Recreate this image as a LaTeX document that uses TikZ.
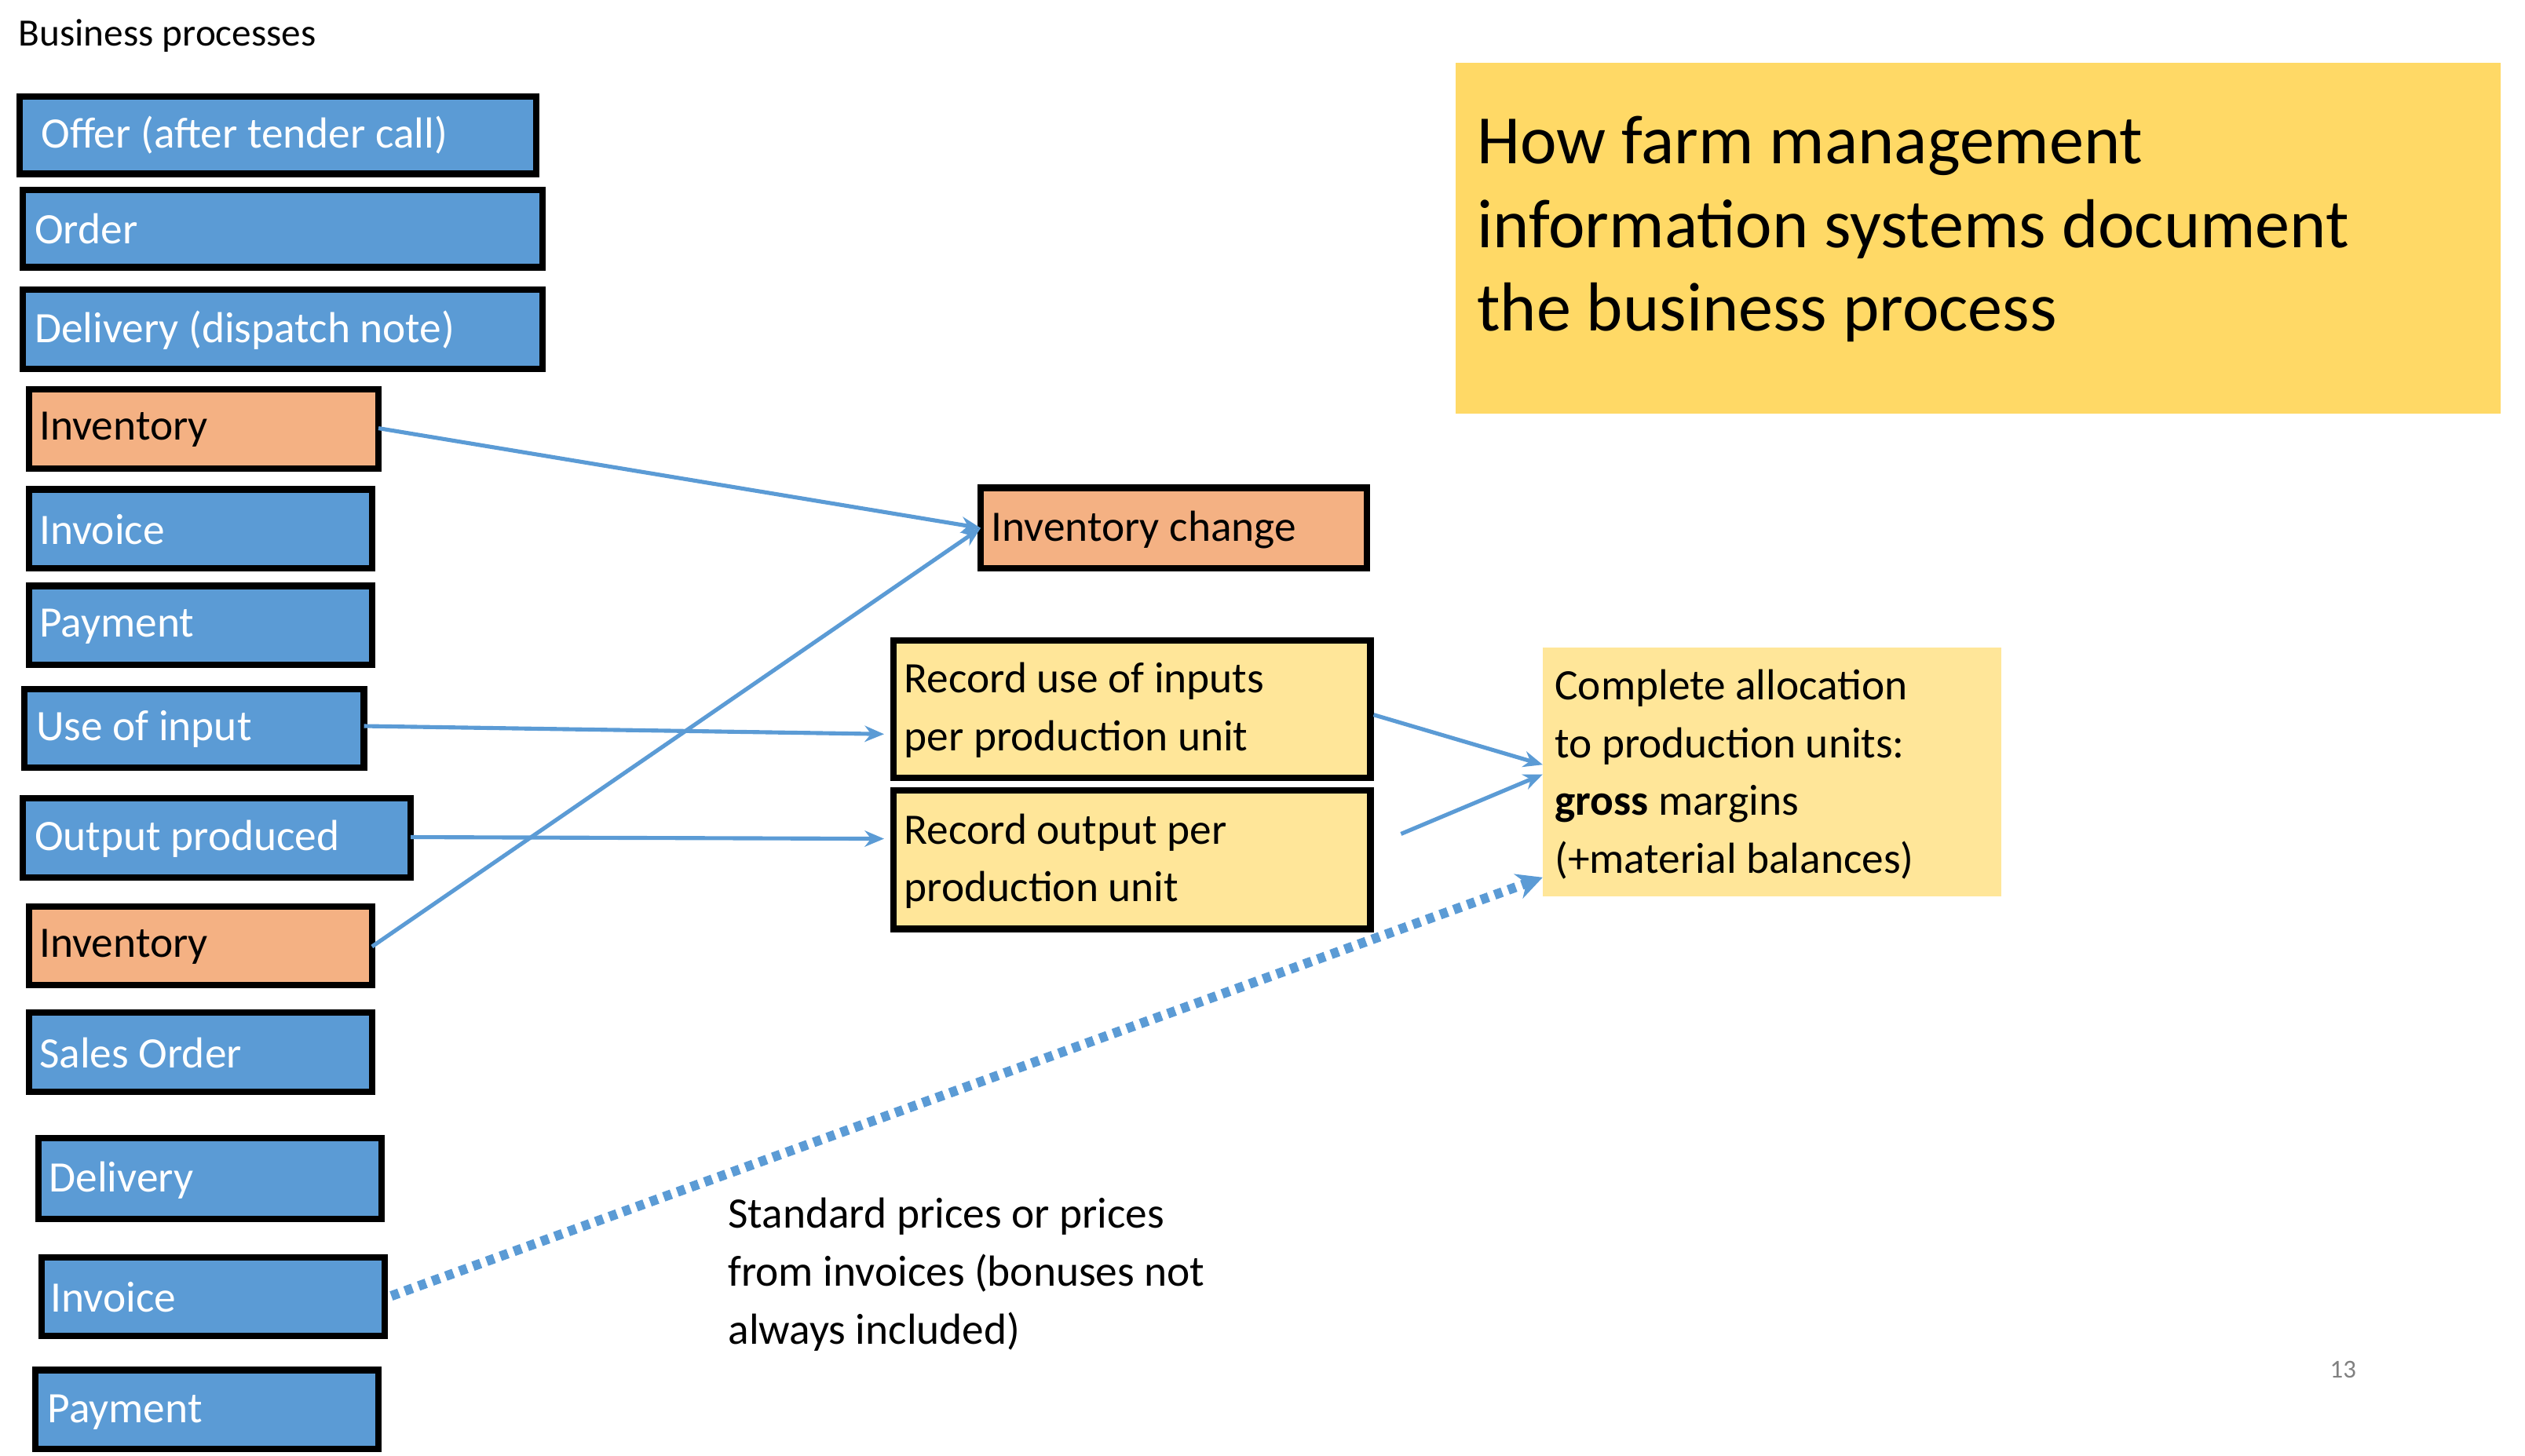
\documentclass[tikz,border=0pt]{standalone}
\usepackage{fontspec}
\setmainfont{Carlito}
\usetikzlibrary{arrows.meta}
\definecolor{bp}{HTML}{5B9BD5}
\definecolor{og}{HTML}{F4B183}
\definecolor{ly}{HTML}{FFE699}
\definecolor{ty}{HTML}{FFD966}
\begin{document}
\begin{tikzpicture}[x=1pt,y=-1pt,
 bx/.style={draw=black,line width=4pt},
 lb/.style={anchor=west,font=\fontsize{27}{32}\selectfont},
 ar/.style={draw=bp,line width=2.5pt,-{Stealth[length=12pt,width=10pt]}}]
\useasboundingbox (0,0) rectangle (1568,904);
\begin{scope}
\clip (0,0) rectangle (1568,904);
\newcommand\bbox[7]{\draw[bx,fill=#6] (#1,#2) rectangle (#3,#4); \node[lb,text=#7] (#5) at (#1+10,{(#2+#4)/2}) {};}
\draw[bx,fill=bp] (12,60) rectangle (333,108); \node[lb,white] (n1) at (22,84) {Offer (after tender call)};
\draw[bx,fill=bp] (14,118) rectangle (337,166); \node[lb,white] (n2) at (18,142) {Order};
\draw[bx,fill=bp] (14,180) rectangle (337,229); \node[lb,white] (n3) at (18,205) {Delivery (dispatch note)};
\draw[bx,fill=og] (18,242) rectangle (235,291); \node[lb] (inv1) at (21,267) {Inventory};
\coordinate (inv1e) at (235,266);
\draw[bx,fill=bp] (18,304) rectangle (231,353); \node[lb,white] (n5) at (21,329) {Invoice};
\draw[bx,fill=bp] (18,364) rectangle (231,413); \node[lb,white] (n6) at (21,389) {Payment};
\draw[bx,fill=bp] (15,428) rectangle (226,477); \node[lb,white] (use) at (19,453) {Use of input};
\coordinate (usee) at (226,451);
\draw[bx,fill=bp] (14,496) rectangle (255,545); \node[lb,white] (out) at (18,521) {Output produced};
\coordinate (oute) at (255,520);
\draw[bx,fill=og] (18,563) rectangle (231,612); \node[lb] (inv2) at (21,588) {Inventory};
\coordinate (inv2e) at (231,588);
\draw[bx,fill=bp] (18,629) rectangle (231,678); \node[lb,white] (so) at (21,654) {Sales Order};
\draw[bx,fill=bp] (24,707) rectangle (237,757); \node[lb,white] (del) at (27,733) {Delivery};
\draw[bx,fill=bp] (26,781) rectangle (239,830); \node[lb,white] (invc) at (28,806) {Invoice};
\coordinate (invce) at (243,805);
\draw[bx,fill=bp] (22,851) rectangle (235,900); \node[lb,white] (pay) at (26,877) {Payment};
\end{scope}
\node[lb,font=\fontsize{24}{28}\selectfont] (bp) at (8,22) {Business processes};
\fill[ty] (904,39) rectangle (1553,257);
\node[anchor=north west,align=left,font=\fontsize{43}{52}\selectfont,inner sep=0pt] (title) at (917,72) {How farm management\\information systems document\\the business process};
\draw[bx,fill=og] (609,303) rectangle (849,353); \node[lb] (ic) at (612,329) {Inventory change};
\coordinate (icw) at (609,328);
\draw[bx,fill=ly] (555,398) rectangle (851,483);
\node[anchor=west,align=left,font=\fontsize{27}{36}\selectfont] (ru) at (558,441) {Record use of inputs\\per production unit};
\draw[bx,fill=ly] (555,491) rectangle (851,577);
\node[anchor=west,align=left,font=\fontsize{27}{36}\selectfont] (ro) at (558,535) {Record output per\\production unit};
\fill[ly] (958,402) rectangle (1243,557);
\node[anchor=west,align=left,font=\fontsize{27}{36}\selectfont] (ca) at (962,481) {Complete allocation\\to production units:\\\textbf{gross} margins\\(+material balances)};
\node[anchor=north west,align=left,font=\fontsize{27}{36}\selectfont,inner sep=0pt] (sp) at (452,744) {Standard prices or prices\\from invoices (bonuses not\\always included)};
\node[text=gray,font=\fontsize{16}{18}\selectfont] (pg) at (1455,851) {13};
\coordinate (a1) at (549,456); \coordinate (a2) at (549,521);
\coordinate (r1) at (853,444); \coordinate (r2) at (870,518);
\coordinate (c1) at (958,475); \coordinate (c2) at (958,481); \coordinate (c3) at (958,545);
\draw[ar] (inv1e) -- (icw);
\draw[ar] (inv2e) -- (icw);
\draw[ar] (usee) -- (a1);
\draw[ar] (oute) -- (a2);
\draw[ar] (r1) -- (c1);
\draw[ar] (r2) -- (c2);
\draw[draw=bp,line width=6pt,dash pattern=on 5pt off 4pt,-{Stealth[length=16pt,width=16pt]}] (invce) -- (c3);
\end{tikzpicture}
\end{document}
